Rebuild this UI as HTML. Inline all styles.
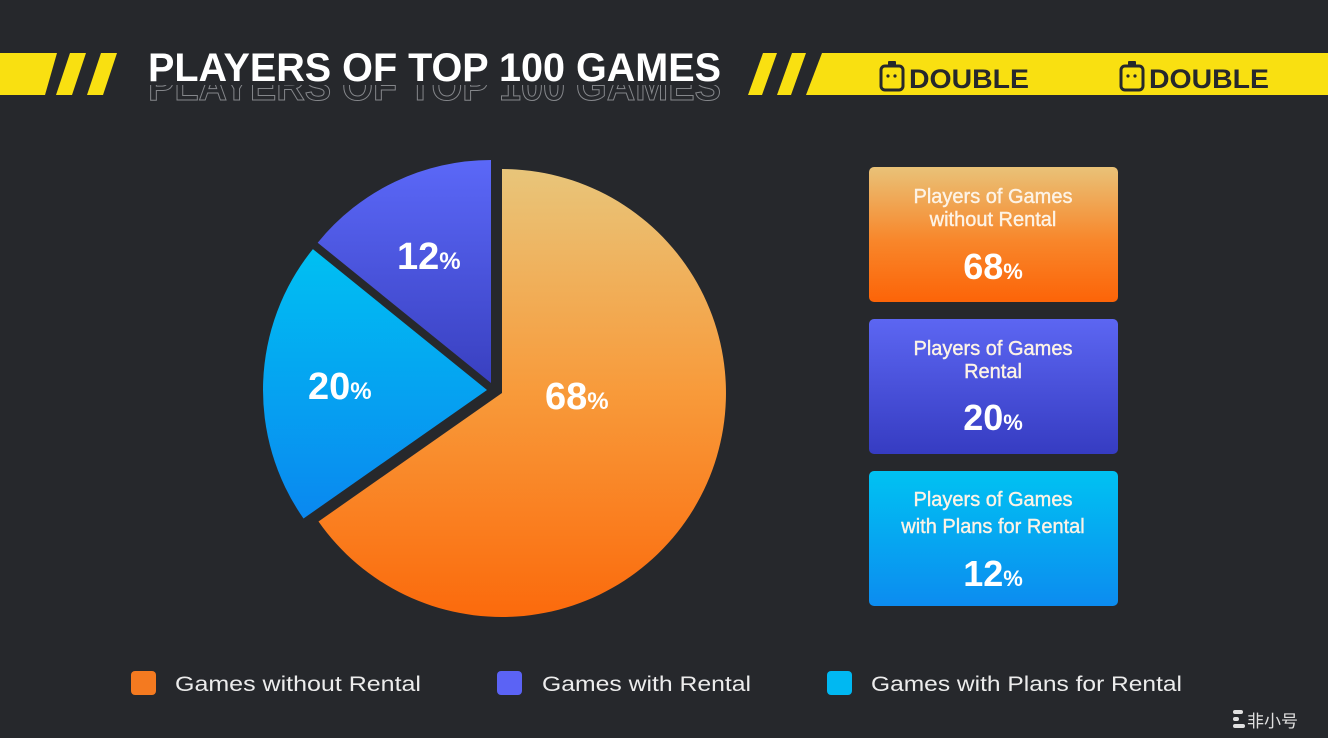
<!DOCTYPE html>
<html><head><meta charset="utf-8"><style>
html,body{margin:0;padding:0;background:#26282c;}
svg{display:block;font-family:"Liberation Sans",sans-serif;}
</style></head><body>
<svg width="1328" height="738" viewBox="0 0 1328 738" xmlns="http://www.w3.org/2000/svg">
<defs>
<linearGradient id="go" x1="0" y1="0" x2="0" y2="1"><stop offset="0" stop-color="#e8c57a"/><stop offset="0.5" stop-color="#f89a3a"/><stop offset="1" stop-color="#fb6a0c"/></linearGradient>
<linearGradient id="gp" x1="0" y1="0" x2="0" y2="1"><stop offset="0" stop-color="#5b68f8"/><stop offset="1" stop-color="#3940c0"/></linearGradient>
<linearGradient id="gc" x1="0" y1="0" x2="0" y2="1"><stop offset="0" stop-color="#00c0f2"/><stop offset="1" stop-color="#0a88f0"/></linearGradient>
<linearGradient id="bo" x1="0" y1="0" x2="0" y2="1"><stop offset="0" stop-color="#e9c278"/><stop offset="0.55" stop-color="#f8862a"/><stop offset="1" stop-color="#fc6408"/></linearGradient>
<linearGradient id="bp" x1="0" y1="0" x2="0" y2="1"><stop offset="0" stop-color="#5c66f2"/><stop offset="1" stop-color="#363cc2"/></linearGradient>
<linearGradient id="bc" x1="0" y1="0" x2="0" y2="1"><stop offset="0" stop-color="#00c2f2"/><stop offset="1" stop-color="#0c8cf0"/></linearGradient>
<clipPath id="refl"><rect x="140" y="85" width="600" height="17"/></clipPath>
</defs>
<rect width="1328" height="738" fill="#26282c"/>
<g fill="#f9e011">
<polygon points="0,53 57,53 45,95 0,95"/>
<polygon points="70,53 86,53 72,95 56,95"/>
<polygon points="101,53 117,53 103,95 87,95"/>
<polygon points="763,53 777,53 762,95 748,95"/>
<polygon points="792,53 806,53 791,95 777,95"/>
<polygon points="822,53 1328,53 1328,95 806,95"/>
</g>
<text x="148" y="81" font-size="40" font-weight="bold" fill="#ffffff" textLength="573" lengthAdjust="spacingAndGlyphs">PLAYERS OF TOP 100 GAMES</text>
<g clip-path="url(#refl)"><text x="148" y="100" font-size="40" font-weight="bold" fill="none" stroke="#85878b" stroke-width="1" textLength="573" lengthAdjust="spacingAndGlyphs">PLAYERS OF TOP 100 GAMES</text></g>
<g fill="#26282c">
<g transform="translate(880,60)"><rect x="1" y="6" width="22" height="24" rx="4" fill="none" stroke="#26282c" stroke-width="3"/><rect x="8" y="1" width="8" height="5" rx="1"/><circle cx="8" cy="16" r="1.6"/><circle cx="15" cy="16" r="1.6"/></g>
<text x="909" y="88" font-size="27" font-weight="bold" textLength="120" lengthAdjust="spacingAndGlyphs">DOUBLE</text>
<g transform="translate(1120,60)"><rect x="1" y="6" width="22" height="24" rx="4" fill="none" stroke="#26282c" stroke-width="3"/><rect x="8" y="1" width="8" height="5" rx="1"/><circle cx="8" cy="16" r="1.6"/><circle cx="15" cy="16" r="1.6"/></g>
<text x="1149" y="88" font-size="27" font-weight="bold" textLength="120" lengthAdjust="spacingAndGlyphs">DOUBLE</text>
</g>
<path d="M502,393 L502,169 A224,224 0 1 1 318.5,521.5 Z" fill="url(#go)"/>
<path d="M487,390 L303.5,518.5 A224,224 0 0 1 312.9,249.1 Z" fill="url(#gc)"/>
<path d="M491,383 L317.7,242.7 A223,223 0 0 1 491,160 Z" fill="url(#gp)"/>
<g fill="#ffffff" font-weight="bold">
<text x="545" y="409" font-size="38">68<tspan font-size="24">%</tspan></text>
<text x="397" y="269" font-size="38">12<tspan font-size="24">%</tspan></text>
<text x="308" y="399" font-size="38">20<tspan font-size="24">%</tspan></text>
</g>
<rect x="869" y="167" width="249" height="135" rx="5" fill="url(#bo)"/>
<rect x="869" y="319" width="249" height="135" rx="5" fill="url(#bp)"/>
<rect x="869" y="471" width="249" height="135" rx="5" fill="url(#bc)"/>
<g fill="#fdf3e6" text-anchor="middle" font-size="20" stroke="#fdf3e6" stroke-width="0.4">
<text x="993" y="203">Players of Games</text>
<text x="993" y="226">without Rental</text>
<text x="993" y="355">Players of Games</text>
<text x="993" y="378">Rental</text>
<text x="993" y="506">Players of Games</text>
<text x="993" y="533">with Plans for Rental</text>
</g>
<g fill="#ffffff" text-anchor="middle" font-weight="bold" font-size="36">
<text x="993" y="279">68<tspan font-size="22">%</tspan></text>
<text x="993" y="430">20<tspan font-size="22">%</tspan></text>
<text x="993" y="586">12<tspan font-size="22">%</tspan></text>
</g>
<rect x="131" y="671" width="25" height="24" rx="4" fill="#f47a20"/>
<rect x="497" y="671" width="25" height="24" rx="4" fill="#5b63f5"/>
<rect x="827" y="671" width="25" height="24" rx="4" fill="#00b8f2"/>
<g fill="#ececec" font-size="21">
<text x="175" y="691" textLength="246" lengthAdjust="spacingAndGlyphs">Games without Rental</text>
<text x="542" y="691" textLength="209" lengthAdjust="spacingAndGlyphs">Games with Rental</text>
<text x="871" y="691" textLength="311" lengthAdjust="spacingAndGlyphs">Games with Plans for Rental</text>
</g>
<g fill="#e0e0e0">
<rect x="1233" y="710" width="10" height="4" rx="2"/><rect x="1233" y="717" width="6" height="4" rx="2"/><rect x="1233" y="724" width="12" height="4" rx="2"/>
<text x="1247" y="727" font-size="17" font-family="Noto Sans CJK SC, sans-serif">非小号</text>
</g>
</svg>
</body></html>
